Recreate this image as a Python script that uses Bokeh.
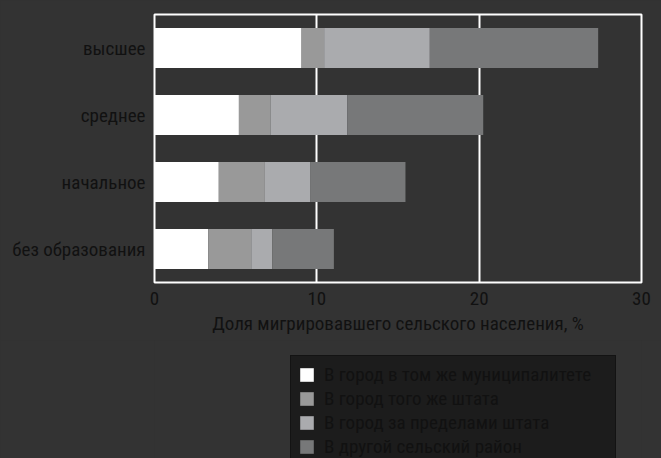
from bokeh.plotting import figure
from bokeh.layouts import column
from bokeh.models import ColumnDataSource, Legend, LegendItem, FactorRange, FixedTicker
from bokeh.embed import file_html
from bokeh.resources import INLINE

levels = ["без образования", "начальное", "среднее", "высшее"]
same_municipality = [3.31, 3.96, 5.2, 9.06]
same_state = [2.65, 2.84, 1.94, 1.39]
other_state = [1.29, 2.81, 4.73, 6.51]
other_rural = [3.8, 5.85, 8.38, 10.37]
series_keys = ["m", "s", "o", "r"]
series_labels = ["В город в том же муниципалитете", "В город того же штата",
                 "В город за пределами штата", "В другой сельский район"]
colors = ["#ffffff", "#999999", "#aaabae", "#777879"]
x_ticks = [0, 10, 20, 30]

FONT = "Liberation Sans Narrow, Roboto Condensed, Arial Narrow, sans-serif"
TXT = "#111111"
BG = "#333333"

source = ColumnDataSource(dict(level=levels, m=same_municipality, s=same_state,
                               o=other_state, r=other_rural))

p = figure(y_range=FactorRange(*levels, range_padding=0), x_range=(0, 30),
           width=661, height=340,
           min_border_left=154, min_border_top=14, min_border_right=20,
           min_border_bottom=58,
           output_backend="svg", toolbar_location=None)

renderers = p.hbar_stack(series_keys, y="level", height=0.6, color=colors,
                         line_color=None, source=source)

p.background_fill_color = BG
p.border_fill_color = BG
p.outline_line_color = "white"
p.outline_line_width = 2

p.ygrid.grid_line_color = None
p.xgrid.grid_line_color = "white"
p.xgrid.grid_line_width = 2
p.xaxis.ticker = FixedTicker(ticks=x_ticks)

for ax in (p.xaxis[0], p.yaxis[0]):
    ax.axis_line_color = None
    ax.major_tick_line_color = None
    ax.minor_tick_line_color = None
    ax.major_tick_out = 0
    ax.major_tick_in = 0
    ax.major_label_text_font = FONT
    ax.major_label_text_font_size = "19px"
    ax.major_label_text_color = TXT
    ax.major_label_standoff = 9

p.xaxis.axis_label = "Доля мигрировавшего сельского населения, %"
p.xaxis.axis_label_text_font = FONT
p.xaxis.axis_label_text_font_size = "19px"
p.xaxis.axis_label_text_font_style = "normal"
p.xaxis.axis_label_text_color = TXT
p.xaxis.axis_label_standoff = 4

# legend panel below the chart (same stacked series, zero-height and out of view)
lg = figure(width=661, height=118, x_range=(100, 101),
            y_range=FactorRange(*levels, range_padding=0),
            x_axis_type=None, y_axis_type=None,
            min_border_left=154, min_border_right=20, min_border_top=0, min_border_bottom=0,
            output_backend="svg", toolbar_location=None)
lg.background_fill_color = BG
lg.border_fill_color = BG
lg.outline_line_color = None
lg.grid.grid_line_color = None

swatches = lg.hbar_stack(series_keys, y="level", height=0.0, color=colors,
                         line_color=None, source=source)

legend = Legend(items=[LegendItem(label=l, renderers=[r]) for l, r in zip(series_labels, swatches)],
                location=(136, -8))
legend.background_fill_color = "#1c1c1c"
legend.background_fill_alpha = 1
legend.border_line_color = "#0a0a0a"
legend.border_line_width = 1
legend.label_text_font = FONT
legend.label_text_font_size = "19px"
legend.label_text_color = TXT
legend.glyph_width = 17
legend.glyph_height = 17
legend.label_height = 17
legend.label_width = 284
legend.spacing = 1
legend.padding = 7
legend.margin = 0
legend.label_standoff = 9
lg.add_layout(legend, "center")

layout = column(p, lg, spacing=0, styles={"background-color": BG})
open("out.html", "w").write(file_html(layout, INLINE))
